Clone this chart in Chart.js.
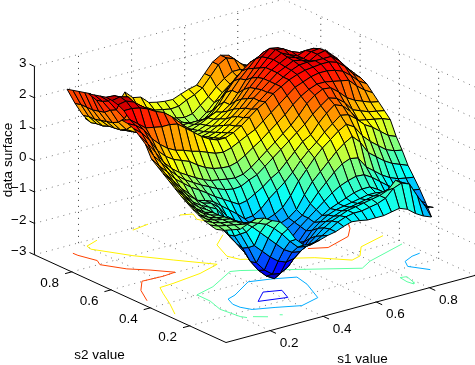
<!DOCTYPE html>
<html>
<head>
<meta charset="utf-8">
<style>
html, body { margin: 0; padding: 0; background: #fff; }
#wrap { width: 475px; height: 365px; }
</style>
<script src="https://cdn.jsdelivr.net/npm/chart.js@4"></script>
</head>
<body>
<div id="wrap"><canvas id="surfaceChart"></canvas></div>
<script>
const n = null;

const s1Ticks = [0.2, 0.4, 0.6, 0.8];
const s2Ticks = [0.2, 0.4, 0.6, 0.8];
const zTicks = [-3, -2, -1, 0, 1, 2, 3];
const s1Labels = ["0.2", "0.4", "0.6", "0.8"];
const s2Labels = ["0.2", "0.4", "0.6", "0.8"];
const zLabels = ["\u22123", "\u22122", "\u22121", "0", "1", "2", "3"];

const s1Grid = [0.06, 0.09, 0.12, 0.15, 0.18, 0.21, 0.24, 0.27, 0.30, 0.33, 0.36, 0.39, 0.42, 0.45, 0.48, 0.51,
    0.54, 0.57, 0.60, 0.63, 0.66, 0.69, 0.72, 0.75, 0.78, 0.81, 0.84, 0.87, 0.90, 0.93, 0.96];
const s2Grid = [0.10, 0.13, 0.16, 0.19, 0.22, 0.25, 0.28, 0.31, 0.34, 0.37, 0.40, 0.43, 0.46, 0.49, 0.52,
    0.55, 0.58, 0.61, 0.64, 0.67, 0.70, 0.73, 0.76, 0.79, 0.82, 0.85, 0.88, 0.91, 0.94, 0.97];

// one row per s2 value, one column per s1 value
const zRows = [
    [.3,.2,.15,.1,.2,.3,.25,.1,0,-.3,-.7,-.95,-1,-.93,-.85,-.8,-.7,-.62,-.65,-.7,-.7,-.7,-.65,-.6,-.7,-.9,-1.05,-1.15,n,n,n],
    [.35,.25,.2,.15,.1,.1,0,-.1,-.3,-.55,-.85,-1.1,-1.15,-1.1,-.95,-.8,-.65,-.55,-.5,-.5,-.45,-.4,-.3,-.05,.05,-.05,-.5,-.9,-1,n,n],
    [.4,.28,.2,.15,.1,0,-.2,-.45,-.7,-.95,-1.2,-1.35,-1.4,-1.25,-1.05,-.85,-.7,-.6,-.5,-.45,-.4,-.35,-.3,-.2,.05,-.1,-.5,-.85,-1.05,n,n],
    [.5,.3,.2,.15,.1,-.1,-.45,-.95,-1.2,-1.45,-1.65,-1.75,-1.7,-1.5,-1.2,-.95,-.8,-.7,-.6,-.55,-.5,-.45,-.4,-.35,-.3,-.45,-.75,-.95,-1.1,-1.25,n],
    [.6,.35,.2,.12,.08,-.2,-.6,-1.1,-1.65,-1.95,-2.15,-2.2,-2.05,-1.75,-1.4,-1.1,-.9,-.75,-.65,-.6,-.55,-.5,-.45,-.45,-.5,-.65,-.85,-1,-1.15,-1.3,-1.7],
    [.72,.45,.25,.12,.05,-.15,-.75,-1.2,-1.7,-2.05,-2.3,-2.45,-2.3,-1.9,-1.5,-1.2,-1,-.85,-.7,-.6,-.5,-.4,-.35,-.35,-.5,-.7,-.9,-1.05,-1.15,-1.2,-1.33],
    [.85,.55,.3,.12,.05,-.2,-.8,-1.15,-1.5,-1.8,-2,-2.05,-2,-1.7,-1.4,-1.15,-.95,-.75,-.55,-.35,-.2,-.1,-.03,-.05,-.2,-.4,-.6,-.75,-.85,-.95,-.99],
    [1,.7,.42,.2,.05,-.15,-.7,-1.05,-1.2,-1.5,-1.7,-1.75,-1.65,-1.45,-1.25,-1.1,-.95,-.65,-.35,-.1,.15,.35,.45,.4,.05,-.15,-.35,-.5,-.6,-.65,-.69],
    [1.15,.85,.55,.28,.1,-.02,-.15,-.5,-.95,-1.15,-1.3,-1.45,-1.4,-1.3,-1.15,-1.05,-.85,-.45,-.1,.15,.4,.65,.85,1,.75,.35,.15,-.05,-.2,-.3,-.4],
    [1.3,1,.7,.42,.22,.02,-.05,-.25,-.6,-.8,-.95,-1.05,-1.1,-1.05,-.95,-.8,-.5,-.1,.2,.5,.75,.95,1.15,1.3,1.15,.8,.55,.35,.15,.05,0],
    [1.45,1.15,.85,.55,.3,.02,-.05,-.15,-.35,-.55,-.75,-.98,-.95,-.8,-.55,-.35,-.15,.1,.4,.65,.85,1.1,1.3,1.5,1.45,1.25,1,.85,.65,.45,.35],
    [1.6,1.3,1.05,.75,.55,.35,.2,.03,-.15,-.3,-.45,-.6,-.55,-.4,-.25,-.05,.1,.35,.6,.85,1,1.3,1.55,1.75,1.65,1.4,1.05,1,.95,.9,.8],
    [1.98,1.55,1.25,.95,.7,.5,.35,.2,.08,-.05,-.15,-.2,-.18,-.05,.05,.25,.45,.65,.85,1.05,1.25,1.5,1.7,1.88,1.8,1.6,1.3,1.2,1.1,1.05,1],
    [2.15,1.85,1.5,1.12,.85,.65,.5,.35,.22,.12,.08,.03,0,.05,.2,.4,.6,.8,1,1.2,1.45,1.75,1.95,2.08,2.05,1.85,1.6,1.45,1.35,1.25,1.2],
    [2.3,2.1,1.8,1.4,1.15,.98,.88,.78,.6,.45,.35,.3,.28,.35,.5,.68,.85,1.05,1.25,1.45,1.7,1.9,2.05,2.15,2.15,2.1,2.05,2,1.75,1.55,1.4],
    [2.38,2.25,2.05,1.7,1.45,1.25,1.12,1.05,.95,.88,.78,.68,.65,.72,.85,.98,1.1,1.3,1.5,1.7,1.9,2.1,2.2,2.3,2.35,2.35,2.3,2.2,2,1.75,1.6],
    [2.4,2.35,2.15,1.95,1.9,1.85,1.85,1.8,1.6,1.4,1.2,1.05,.95,.95,1.05,1.2,1.4,1.6,1.75,1.95,2.1,2.25,2.35,2.42,2.45,2.48,2.48,2.4,2.2,1.9,1.7],
    [n,2.55,2.55,2.5,2.4,2.25,2.15,1.95,1.7,1.45,1.2,.95,.85,.85,.95,1.1,1.3,1.5,1.7,1.9,2.1,2.25,2.4,2.5,2.52,2.5,2.5,2.5,2.3,2,1.75],
    [n,2.65,2.7,2.6,2.4,2.2,2,1.75,1.5,1.25,1.02,.85,.75,.78,.88,1.05,1.25,1.45,1.7,1.9,2.1,2.3,2.42,2.55,2.5,2.4,2.55,2.6,2.35,2.02,1.8],
    [n,2.7,2.75,2.68,2.35,2.02,1.75,1.5,1.25,1.05,.9,.78,.7,.72,.8,.95,1.15,1.35,1.6,1.85,2.1,2.3,2.45,2.58,2.5,2.4,2.55,2.58,2.3,2,1.88],
    [n,2.72,2.7,2.55,2.1,1.75,1.45,1.25,1.05,.95,.8,.7,.65,.65,.72,.85,1,1.25,1.5,1.8,2.05,2.3,2.48,2.62,2.5,2.4,2.5,2.5,2.25,2,1.98],
    [n,2.67,2.45,2.1,1.75,1.45,1.2,1.05,.98,.85,.72,.65,.6,.6,.65,.75,.92,1.1,1.35,1.65,1.95,2.2,2.45,2.65,2.6,2.45,2.35,2.3,2.2,2.05,2.02],
    [n,2.62,2.35,2,1.55,1.25,1.1,1,.9,.78,.68,.6,.55,.55,.6,.7,.82,.98,1.15,1.45,1.8,2.1,2.4,2.6,2.55,2.35,2.2,2.1,2.05,2.05,2.07],
    [n,2.57,2.3,1.85,1.45,1.15,1.05,.95,.85,.75,.65,.58,.52,.5,.55,.65,.78,.9,1.15,1.45,1.75,2,2.25,2.4,2.3,2.1,1.95,1.85,1.8,1.8,1.85],
    [n,n,2.42,1.8,1.4,1.12,1,.9,.8,.72,.62,.55,.5,.48,.5,.55,.62,.7,.95,1.3,1.6,1.85,2.05,2.15,2.05,1.85,1.7,1.6,1.55,1.55,1.6],
    [n,n,2.37,1.75,1.35,1.1,.98,.88,.78,.7,.62,.55,.52,.5,.5,.5,.5,.5,.7,1,1.3,1.55,1.75,1.8,1.7,1.6,1.5,1.45,1.4,1.4,1.4],
    [n,n,2.32,1.75,1.3,1.02,.95,.88,.8,.75,.68,.6,.58,.55,.5,.45,.35,.35,.55,.8,1.05,1.25,1.4,1.45,1.4,1.35,1.3,1.3,1.3,1.3,1.3],
    [n,n,2.27,1.75,1.3,1,.98,.92,.88,.85,.8,.75,.7,.65,.55,.5,.45,.5,.7,.9,1.15,1.35,1.5,1.5,1.4,1.35,1.3,1.25,1.25,1.25,1.25],
    [n,n,2.22,1.7,1.25,.95,.95,.98,1,1.05,1.1,1,.95,.8,.75,.7,.72,.85,.95,1.1,1.4,1.7,1.85,1.75,1.5,1.35,1.25,1.2,1.2,1.2,1.2],
    [n,n,n,n,n,1,.98,1,1.05,1.15,1.5,1.25,1.2,.96,.9,.86,.85,.95,1.04,1.1,1.4,1.7,1.85,1.78,1.5,1.34,1.25,1.2,1.15,1.15,1.15],
];

// contour lines on the floor: [level, s1 values, s2 values]
const contourLines = [
    [2, [.133,.134,.153,.138,.180,.229,.277,.228,.152,.102,.063], [.928,.904,.831,.797,.717,.665,.603,.597,.602,.540,.456]],
    [1, [.258,.203,.197,.263,.336,.418,.330,.214,.162,.138,.101,.060], [.974,.951,.922,.798,.692,.579,.547,.528,.524,.475,.391,.310]],
    [1, [.395,.462], [.977,.990]],
    [1, [.585,.621,.603,.626], [.994,.976,.932,.880]],
    [1, [.585,.518,.483,.498,.684,.760,.800,.850,.960], [.775,.715,.617,.570,.441,.354,.368,.430,.467]],
    [2, [.715,.768,.873,.919,.942], [.518,.487,.527,.580,.620]],
    [0, [.962,.797,.742,.440,.411,.292,.212,.211,.192,.202,.213], [.373,.313,.278,.492,.504,.430,.403,.335,.259,.170,.150]],
    [0, [.232,.267], [.145,.116]],
    [0, [.305,.312], [.108,.102]],
    [0, [.783,.804,.792,.783,.778,.783], [.141,.135,.087,.071,.099,.141]],
    [-1, [.264,.301,.401,.473,.541,.528,.484,.405,.332,.267,.250,.248,.264], [.315,.330,.398,.373,.339,.270,.156,.130,.168,.197,.235,.270,.315]],
    [-1, [.956,.922,.879,.859,.896], [.275,.268,.245,.205,.140]],
    [-2, [.323,.383,.437,.414,.323], [.242,.298,.275,.214,.242]],
];

const s1Lim = [0.034, 0.972];
const s2Lim = [0.015, 0.99];
const zLim = [-3, 3];
const colorLim = [-2.7, 3.1];

// fixed 3d view, gives chart units (the chart's scales run 0-475 and 0-365)
function project(s1, s2, z) {
    const a = s1 - s1Lim[0];
    const b = s2 - s2Lim[0];
    return {
        x: 226 + 265.5 * a - 196.5 * b,
        y: 342.5 - 71.5 * a - 90 * b - 31.4 * (z + 3),
    };
}

function jet(value) {
    const t = Math.min(1, Math.max(0, (value - colorLim[0]) / (colorLim[1] - colorLim[0])));
    const part = (c) => Math.round(255 * Math.min(1, Math.max(0, 1.5 - Math.abs(4 * t - c))));
    return `rgb(${part(3)},${part(2)},${part(1)})`;
}

function lineSet(points, color, width, dash) {
    return {
        data: points,
        showLine: true,
        pointRadius: 0,
        borderColor: color,
        borderWidth: width,
        borderDash: dash || [],
        fill: false,
    };
}

function gridSets() {
    const sets = [];
    const dots = [1, 5];
    zTicks.forEach((z) => {
        sets.push(lineSet([project(s1Lim[0], s2Lim[1], z), project(s1Lim[1], s2Lim[1], z)], "#777", 1, dots));
        sets.push(lineSet([project(s1Lim[1], s2Lim[1], z), project(s1Lim[1], s2Lim[0], z)], "#777", 1, dots));
    });
    s1Ticks.forEach((s1) => {
        sets.push(lineSet([project(s1, s2Lim[1], zLim[0]), project(s1, s2Lim[1], zLim[1])], "#333", 1, dots));
        sets.push(lineSet([project(s1, s2Lim[0], zLim[0]), project(s1, s2Lim[1], zLim[0])], "#777", 1, dots));
    });
    s2Ticks.forEach((s2) => {
        sets.push(lineSet([project(s1Lim[1], s2, zLim[0]), project(s1Lim[1], s2, zLim[1])], "#333", 1, dots));
        sets.push(lineSet([project(s1Lim[0], s2, zLim[0]), project(s1Lim[1], s2, zLim[0])], "#777", 1, dots));
    });
    return sets;
}

function axisSets() {
    const black = "#000";
    const sets = [
        lineSet([project(s1Lim[0], s2Lim[1], zLim[0]), project(s1Lim[0], s2Lim[1], zLim[1])], black, 1),
        lineSet([project(s1Lim[0], s2Lim[0], zLim[0]), project(s1Lim[0], s2Lim[1], zLim[0])], black, 1),
        lineSet([project(s1Lim[0], s2Lim[0], zLim[0]), project(s1Lim[1], s2Lim[0], zLim[0])], black, 1),
    ];
    zTicks.forEach((z) => {
        sets.push(lineSet([project(s1Lim[0], s2Lim[1], z), project(s1Lim[0], s2Lim[1] + 0.025, z)], black, 1));
    });
    s1Ticks.forEach((s1) => {
        sets.push(lineSet([project(s1, s2Lim[0], zLim[0]), project(s1, s2Lim[0] - 0.03, zLim[0])], black, 1));
    });
    s2Ticks.forEach((s2) => {
        sets.push(lineSet([project(s1Lim[0], s2, zLim[0]), project(s1Lim[0] - 0.025, s2, zLim[0])], black, 1));
    });
    return sets;
}

function contourSets() {
    return contourLines.map(([level, s1Values, s2Values]) => {
        const points = s1Values.map((s1, k) => project(s1, s2Values[k], zLim[0]));
        return lineSet(points, jet(level), 1);
    });
}

// back to front, so nearer cells paint over farther ones
function surfaceSets() {
    const sets = [];
    for (let j = s2Grid.length - 2; j >= 0; j--) {
        for (let i = s1Grid.length - 2; i >= 0; i--) {
            const corners = [zRows[j][i], zRows[j][i + 1], zRows[j + 1][i + 1], zRows[j + 1][i]];
            if (corners.some((z) => z === null)) continue;
            const mean = corners.reduce((sum, z) => sum + z, 0) / 4;
            const points = [
                project(s1Grid[i], s2Grid[j], corners[0]),
                project(s1Grid[i + 1], s2Grid[j], corners[1]),
                project(s1Grid[i + 1], s2Grid[j + 1], corners[2]),
                project(s1Grid[i], s2Grid[j + 1], corners[3]),
                project(s1Grid[i], s2Grid[j], corners[0]),
            ];
            sets.push({
                data: points,
                showLine: true,
                pointRadius: 0,
                fill: "shape",
                backgroundColor: jet(mean),
                borderColor: "#000",
                borderWidth: 1,
            });
        }
    }
    return sets;
}

const textPlugin = {
    id: "axisText",
    afterDraw(chart) {
        const { ctx, scales } = chart;
        const font = '13.5px "Liberation Sans", sans-serif';
        const put = (label, point, dx, dy, align) => {
            ctx.textAlign = align || "center";
            ctx.fillText(label, scales.x.getPixelForValue(point.x) + dx, scales.y.getPixelForValue(point.y) + dy);
        };
        ctx.save();
        ctx.font = font;
        ctx.fillStyle = "#000";
        ctx.textBaseline = "middle";
        zTicks.forEach((z, k) => put(zLabels[k], project(s1Lim[0], s2Lim[1], z), -8, -3.5, "right"));
        s1Ticks.forEach((s1, k) => put(s1Labels[k], project(s1, s2Lim[0], zLim[0]), 19, 12.5));
        s2Ticks.forEach((s2, k) => put(s2Labels[k], project(s1Lim[0], s2, zLim[0]), -22, 11.5));
        ctx.fillText("s2 value", 99.5, 355.5);
        ctx.fillText("s1 value", 362.5, 359);
        ctx.translate(8, 160);
        ctx.rotate(-Math.PI / 2);
        ctx.textAlign = "center";
        ctx.fillText("data surface", 0, 0);
        ctx.restore();
    },
};

// chart draws dataset 0 last, so the paint order is reversed here
const paintOrder = [...gridSets(), ...contourSets(), ...axisSets(), ...surfaceSets()].reverse();

new Chart(document.getElementById("surfaceChart"), {
    type: "scatter",
    data: { datasets: paintOrder },
    options: {
        responsive: true,
        maintainAspectRatio: false,
        animation: false,
        events: [],
        layout: { padding: 0 },
        scales: {
            x: { type: "linear", display: false, min: 0, max: 475 },
            y: { type: "linear", display: false, min: 0, max: 365, reverse: true },
        },
        plugins: {
            legend: { display: false },
            tooltip: { enabled: false },
        },
    },
    plugins: [textPlugin],
});
</script>
</body>
</html>
